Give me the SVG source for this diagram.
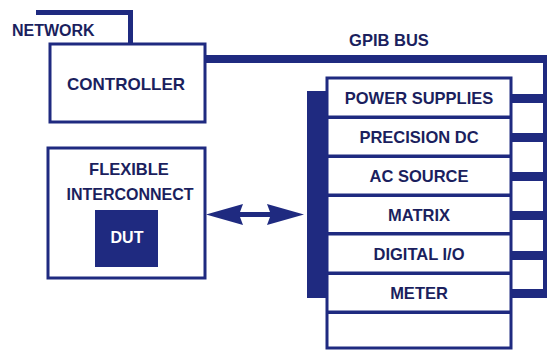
<svg xmlns="http://www.w3.org/2000/svg" width="547" height="350" viewBox="0 0 547 350">
<style>
.t{font-family:"Liberation Sans",Arial,sans-serif;font-weight:bold;fill:#1b1f5e;}
.box{fill:#fff;stroke:#1f2a80;stroke-width:3;}
.ln{fill:#1f2a80;}
.m{font-size:16.5px;text-anchor:middle;}
</style>
<rect width="547" height="350" fill="#fff"/>
<g id="connectors">
  <path class="ln" d="M36,10 H133 V44 H128 V15 H36 Z"/>
  <rect class="ln" x="205" y="55" width="342" height="8"/>
  <rect class="ln" x="543" y="55" width="4" height="243"/>
  <rect class="ln" x="511" y="94" width="36" height="9"/>
  <rect class="ln" x="511" y="133" width="36" height="9"/>
  <rect class="ln" x="511" y="172" width="36" height="9"/>
  <rect class="ln" x="511" y="211" width="36" height="9"/>
  <rect class="ln" x="511" y="251" width="36" height="9"/>
  <rect class="ln" x="511" y="289" width="36" height="9"/>
  <rect class="ln" x="307" y="91" width="20" height="207"/>
  <path class="ln" d="M206,214.5 L243,204 L240,212 L270,212 L267,204 L304,214.5 L267,225 L270,217 L240,217 L243,225 Z"/>
</g>
<g id="network">
  <text class="t" x="12" y="36" font-size="16">NETWORK</text>
</g>
<g id="gpib">
  <text class="t" x="389" y="46" font-size="16.5" text-anchor="middle">GPIB BUS</text>
</g>
<g id="controller">
  <rect class="box" x="50" y="44" width="155" height="78"/>
  <text class="t" x="126" y="90" font-size="17" text-anchor="middle">CONTROLLER</text>
</g>
<g id="flexible">
  <rect class="box" x="48" y="148" width="157" height="130"/>
  <text class="t" x="129" y="175" font-size="16.5" text-anchor="middle">FLEXIBLE</text>
  <text class="t" x="130" y="200" font-size="16" text-anchor="middle">INTERCONNECT</text>
</g>
<g id="dut">
  <rect x="95" y="210" width="63" height="57" fill="#1f2a80"/>
  <text class="t" x="127" y="243" font-size="16" text-anchor="middle" style="fill:#fff">DUT</text>
</g>
<g id="modules">
  <rect class="box" x="327" y="78" width="184" height="270"/>
  <g fill="#1f2a80">
    <rect x="327" y="115.5" width="184" height="3.5"/>
    <rect x="327" y="154.5" width="184" height="3.5"/>
    <rect x="327" y="193.5" width="184" height="3.5"/>
    <rect x="327" y="232" width="184" height="3.5"/>
    <rect x="327" y="271.5" width="184" height="3.5"/>
    <rect x="327" y="310.5" width="184" height="3.5"/>
  </g>
</g>
<g id="power"><text class="t m" x="419" y="104">POWER SUPPLIES</text></g>
<g id="precision"><text class="t m" x="419" y="143">PRECISION DC</text></g>
<g id="ac"><text class="t m" x="419" y="182">AC SOURCE</text></g>
<g id="matrix"><text class="t m" x="419" y="221">MATRIX</text></g>
<g id="digital"><text class="t m" x="419" y="260">DIGITAL I/O</text></g>
<g id="meter"><text class="t m" x="419" y="299">METER</text></g>
</svg>
